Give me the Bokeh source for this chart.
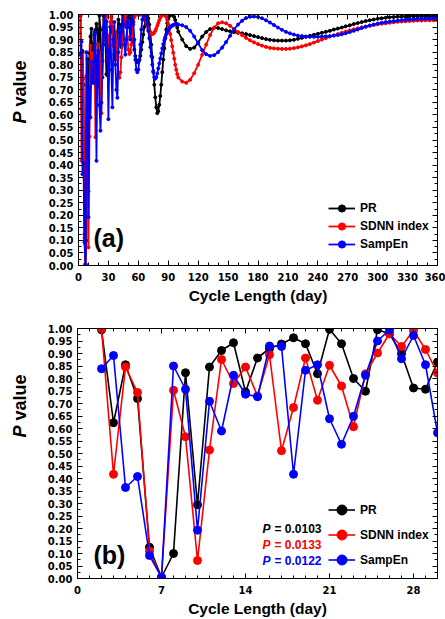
import math
from bokeh.plotting import figure
from bokeh.layouts import column, row
from bokeh.models import (Range1d, LinearAxis, SingleIntervalTicker, PrintfTickFormatter,
                          CustomJSTickFormatter, Label, Legend, LegendItem)
from bokeh.embed import file_html
from bokeh.resources import INLINE

# ---------------- data ----------------
series_names = ["PR", "SDNN index", "SampEn"]
series_colors = ["#000000", "#ff0000", "#0000ff"]
p_values = ["0.0103", "0.0133", "0.0122"]

# cycle length 2..30 days (panel b, also start of panel a)
days_b = list(range(2, 31))
pr_b = [0.995, 0.623, 0.855, 0.720, 0.125, 0.005, 0.100, 0.823, 0.295, 0.846,
        0.912, 0.943, 0.746, 0.882, 0.920, 0.938, 0.963, 0.939, 0.819, 0.997,
        0.939, 0.800, 0.749, 0.995, 0.979, 0.899, 0.762, 0.757, 0.866]
sdnn_b = [1.000, 0.417, 0.846, 0.744, 0.110, 0.005, 0.753, 0.567, 0.072, 0.514,
          0.876, 0.780, 0.846, 0.730, 0.895, 0.511, 0.684, 0.882, 0.713, 0.853,
          0.770, 0.607, 0.819, 0.902, 0.979, 0.928, 0.992, 0.916, 0.822]
sampen_b = [0.839, 0.892, 0.364, 0.408, 0.092, 0.005, 0.850, 0.757, 0.193, 0.709,
            0.590, 0.813, 0.737, 0.727, 0.930, 0.928, 0.417, 0.833, 0.855, 0.639,
            0.537, 0.649, 0.813, 0.950, 0.995, 0.879, 0.972, 0.855, 0.583]

# cycle length 31..100 days (panel a)
days_a_mid = list(range(31, 101))
pr_a_mid = [0.90, 0.95, 0.99, 0.93, 0.88, 0.84, 0.82, 0.86, 0.93, 0.98,
            0.96, 0.90, 0.87, 0.90, 0.96, 1.00, 0.98, 0.95, 0.97, 0.99,
            1.00, 0.985, 0.955, 0.92, 0.89, 0.86, 0.835, 0.818, 0.81, 0.81,
            0.818, 0.835, 0.86, 0.89, 0.92, 0.95, 0.975, 0.99, 0.995, 0.985,
            0.96, 0.93, 0.88, 0.83, 0.775, 0.72, 0.67, 0.63, 0.607, 0.615,
            0.64, 0.675, 0.72, 0.77, 0.82, 0.865, 0.905, 0.94, 0.965, 0.982,
            0.993, 0.998, 1.00, 1.00, 0.998, 0.99, 0.978, 0.963, 0.948, 0.932]
sdnn_a_mid = [0.90, 0.97, 1.00, 0.95, 0.88, 0.87, 0.93, 0.90, 0.82, 0.76,
              0.748, 0.77, 0.83, 0.90, 0.96, 0.99, 1.00, 0.97, 0.91, 0.86,
              0.843, 0.85, 0.88, 0.92, 0.96, 0.99, 1.00, 1.00, 1.00, 1.00,
              1.00, 1.00, 1.00, 1.00, 0.998, 0.99, 0.98, 0.968, 0.955, 0.943,
              0.934, 0.927, 0.923, 0.922, 0.924, 0.928, 0.935, 0.944, 0.955, 0.966,
              0.977, 0.987, 0.994, 0.998, 1.00, 1.00, 0.997, 0.99, 0.978, 0.962,
              0.943, 0.922, 0.898, 0.873, 0.848, 0.824, 0.80, 0.78, 0.763, 0.749]
sampen_a_mid = [0.85, 0.95, 0.78, 0.63, 0.90, 0.97, 0.80, 0.70, 0.668, 0.85,
                0.95, 0.88, 0.93, 1.00, 0.96, 0.88, 0.84, 0.90, 0.97, 0.99,
                0.95, 0.90, 0.96, 1.00, 0.97, 0.90, 0.82, 0.78, 0.77, 0.78,
                0.82, 0.88, 0.94, 0.98, 1.00, 1.00, 0.995, 0.98, 0.96, 0.935,
                0.905, 0.87, 0.835, 0.80, 0.77, 0.75, 0.744, 0.75, 0.765, 0.785,
                0.805, 0.825, 0.845, 0.865, 0.882, 0.897, 0.91, 0.921, 0.93, 0.938,
                0.944, 0.949, 0.953, 0.956, 0.958, 0.96, 0.961, 0.961, 0.961, 0.96]

# cycle length 104..360 days, every 4 days (panel a)
days_a_tail = list(range(104, 361, 4))
pr_a_tail = [0.90, 0.874, 0.863, 0.868, 0.888, 0.912, 0.93, 0.942, 0.947, 0.946,
             0.942, 0.937, 0.933, 0.93, 0.927, 0.925, 0.922, 0.918, 0.914, 0.91,
             0.906, 0.902, 0.899, 0.897, 0.896, 0.896, 0.896, 0.897, 0.899, 0.903,
             0.907, 0.911, 0.915, 0.919, 0.923, 0.927, 0.931, 0.935, 0.94, 0.944,
             0.948, 0.953, 0.957, 0.962, 0.966, 0.97, 0.974, 0.977, 0.98, 0.983,
             0.985, 0.987, 0.989, 0.99, 0.991, 0.992, 0.992, 0.993, 0.993, 0.993,
             0.993, 0.993, 0.993, 0.993, 0.993]
sdnn_a_tail = [0.733, 0.728, 0.74, 0.766, 0.80, 0.84, 0.88, 0.918, 0.948, 0.965,
               0.969, 0.965, 0.955, 0.942, 0.93, 0.918, 0.907, 0.897, 0.889, 0.882,
               0.876, 0.871, 0.867, 0.865, 0.864, 0.863, 0.863, 0.864, 0.866, 0.869,
               0.873, 0.877, 0.882, 0.888, 0.894, 0.90, 0.906, 0.912, 0.917, 0.922,
               0.927, 0.932, 0.937, 0.941, 0.945, 0.949, 0.952, 0.955, 0.958, 0.961,
               0.963, 0.965, 0.967, 0.969, 0.971, 0.972, 0.973, 0.974, 0.975, 0.976,
               0.976, 0.977, 0.977, 0.977, 0.977]
sampen_a_tail = [0.957, 0.95, 0.935, 0.912, 0.885, 0.858, 0.842, 0.835, 0.838, 0.85,
                 0.868, 0.89, 0.915, 0.94, 0.96, 0.975, 0.986, 0.991, 0.992, 0.99,
                 0.985, 0.977, 0.968, 0.958, 0.948, 0.939, 0.931, 0.925, 0.92, 0.916,
                 0.914, 0.912, 0.911, 0.911, 0.911, 0.912, 0.913, 0.914, 0.916, 0.918,
                 0.921, 0.925, 0.93, 0.935, 0.94, 0.946, 0.951, 0.956, 0.96, 0.964,
                 0.967, 0.97, 0.972, 0.974, 0.976, 0.978, 0.979, 0.98, 0.981, 0.982,
                 0.983, 0.983, 0.984, 0.984, 0.985]

x_ticks_a = 30
x_ticks_b = 7
y_tick_step = 0.05

# ---------------- styling helpers ----------------
TICK_FONT = "DejaVu Sans"
TEXT_FONT = "Liberation Sans"


def style_axes(p, x_interval, x_minor):
    bottom = p.below[0]
    left = p.left[0]
    xt = SingleIntervalTicker(interval=x_interval, num_minor_ticks=x_minor)
    yt = SingleIntervalTicker(interval=y_tick_step, num_minor_ticks=2)
    bottom.ticker = xt
    left.ticker = yt
    bottom.formatter = PrintfTickFormatter(format="%d")
    left.formatter = PrintfTickFormatter(format="%.2f")
    blank = CustomJSTickFormatter(code="return ''")
    top = LinearAxis(ticker=xt, formatter=blank)
    right = LinearAxis(ticker=yt, formatter=blank)
    p.add_layout(top, "above")
    p.add_layout(right, "right")
    for ax in [bottom, left, top, right]:
        ax.major_tick_in = 5
        ax.major_tick_out = 0
        ax.minor_tick_in = 3
        ax.minor_tick_out = 0
        ax.axis_line_color = "black"
        ax.major_tick_line_color = "black"
        ax.minor_tick_line_color = "black"
        ax.major_label_text_font = TICK_FONT
        ax.major_label_text_font_style = "bold"
        ax.major_label_text_font_size = "10px"
        ax.major_label_text_color = "black"
    for ax in [top, right]:
        ax.major_label_text_font_size = "0px"
        ax.major_label_standoff = 0
    bottom.major_label_standoff = 7
    left.major_label_standoff = 5
    bottom.axis_label = "Cycle Length (day)"
    bottom.axis_label_text_font = TEXT_FONT
    bottom.axis_label_text_font_style = "bold"
    bottom.axis_label_text_font_size = "15.5px"
    bottom.axis_label_text_color = "black"
    bottom.axis_label_standoff = 3
    p.xgrid.visible = False
    p.ygrid.visible = False
    p.outline_line_color = "black"
    p.outline_line_width = 1


def label_strip(height, y_p, y_val):
    """Narrow strip left of a panel carrying the rotated 'P value' axis title."""
    s = figure(width=40, height=height, x_range=Range1d(0, 40), y_range=Range1d(0, height),
               x_axis_type=None, y_axis_type=None, output_backend="svg",
               toolbar_location=None, min_border=0)
    s.outline_line_color = None
    s.add_layout(Label(x=19, y=y_p, x_units="screen", y_units="screen", text="P",
                       angle=math.pi / 2, text_align="left", text_baseline="middle",
                       text_font=TEXT_FONT, text_font_style="bold italic",
                       text_font_size="18px", text_color="black"))
    s.add_layout(Label(x=19, y=y_val, x_units="screen", y_units="screen", text="value",
                       angle=math.pi / 2, text_align="left", text_baseline="middle",
                       text_font=TEXT_FONT, text_font_style="bold",
                       text_font_size="18px", text_color="black"))
    return s


def panel_tag(p, x, y, txt):
    p.add_layout(Label(x=x, y=y, x_units="screen", y_units="screen", text=txt,
                       text_align="left", text_baseline="middle", text_font=TEXT_FONT,
                       text_font_style="bold", text_font_size="25px", text_color="black"))


def make_legend(renderer_pairs, loc, gh, spacing):
    items = [LegendItem(label=n, renderers=list(rp)) for n, rp in zip(series_names, renderer_pairs)]
    return Legend(items=items, location=loc, orientation="vertical", glyph_width=27,
                  glyph_height=gh, label_height=gh, spacing=spacing, padding=0, margin=0,
                  label_standoff=5, border_line_color=None, background_fill_alpha=0,
                  label_text_font=TEXT_FONT, label_text_font_style="bold",
                  label_text_font_size="12px", label_text_color="black")


# ---------------- panel (a) ----------------
pa = figure(width=405, height=310, x_range=Range1d(0, 360), y_range=Range1d(0, 1),
            output_backend="svg", toolbar_location=None,
            min_border_left=38, min_border_right=8, min_border_top=14, min_border_bottom=45)
style_axes(pa, x_ticks_a, 3)

xa = days_b + days_a_mid + days_a_tail
ya_all = [pr_b + pr_a_mid + pr_a_tail,
          sdnn_b + sdnn_a_mid + sdnn_a_tail,
          sampen_b + sampen_a_mid + sampen_a_tail]
pairs_a = []
for ys, c in zip(ya_all, series_colors):
    ln = pa.line(xa, ys, line_color=c, line_width=1.8)
    sc = pa.scatter(xa, ys, size=3, fill_color=c, line_color=c)
    pairs_a.append((ln, sc))
pa.add_layout(make_legend(pairs_a, (250, 12), 18, -2))
panel_tag(pa, 15, 28, "(a)")
strip_a = label_strip(310, 142, 159)

# ---------------- panel (b) ----------------
pb = figure(width=405, height=309, x_range=Range1d(0, 30), y_range=Range1d(0, 1),
            output_backend="svg", toolbar_location=None,
            min_border_left=37, min_border_right=8, min_border_top=18, min_border_bottom=40)
style_axes(pb, x_ticks_b, 7)

yb_all = [pr_b, sdnn_b, sampen_b]
pairs_b = []
for ys, c in zip(yb_all, series_colors):
    ln = pb.line(days_b, ys, line_color=c, line_width=1.6)
    sc = pb.scatter(days_b, ys, size=8, fill_color=c, line_color=c)
    pairs_b.append((ln, sc))
pb.add_layout(make_legend(pairs_b, (251, 6), 25, -9))
panel_tag(pb, 16, 24, "(b)")
strip_b = label_strip(309, 141, 158)

row_y = [50, 34, 18]
for pv, c, ry in zip(p_values, series_colors, row_y):
    pb.add_layout(Label(x=185, y=ry, x_units="screen", y_units="screen", text="P",
                        text_align="left", text_baseline="middle", text_font=TEXT_FONT,
                        text_font_style="bold italic", text_font_size="12px", text_color=c))
    pb.add_layout(Label(x=197, y=ry, x_units="screen", y_units="screen", text="= " + pv,
                        text_align="left", text_baseline="middle", text_font=TEXT_FONT,
                        text_font_style="bold", text_font_size="12px", text_color=c))

layout = column(row(strip_a, pa, spacing=0), row(strip_b, pb, spacing=0), spacing=0)
open("out.html", "w").write(file_html(layout, INLINE))
